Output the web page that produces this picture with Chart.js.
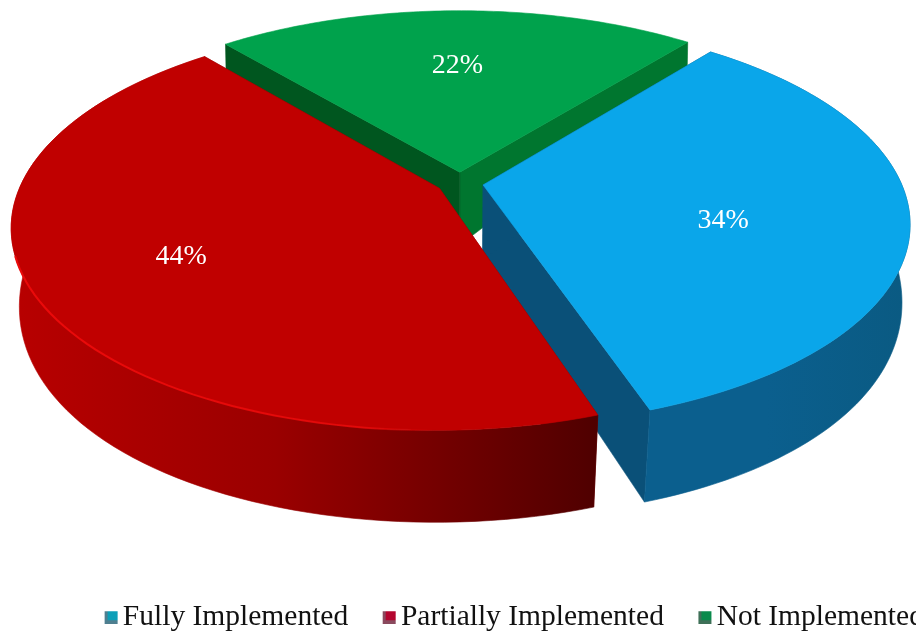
<!DOCTYPE html>
<html><head><meta charset="utf-8">
<script src="https://cdn.jsdelivr.net/npm/chart.js@4/dist/chart.umd.min.js"></script>
<style>html,body{margin:0;padding:0;background:#fff;overflow:hidden;width:916px;height:634px}
#w{position:relative;width:1030px;height:642px}</style></head>
<body><div id="w"><canvas id="c" width="1030" height="642"></canvas></div>
<script>
const categories = ["Fully Implemented", "Partially Implemented", "Not Implemented"];
const values = [34, 44, 22];
const topColors = ["#0AA6EA", "#C00000", "#00A24C"];
const legendFaces = ["#0C9FB8", "#B4062F", "#0A8A4C"];
const legendEdges = ["#4F7F90", "#8A4A5E", "#3F7058"];
const wallColors = [["#0B5F8E", "#0A5A82"], ["#B80000", "#4F0000"], ["#00742E", "#00742E"]];
const startFaceColors = ["#0A5078", "#7A0000", "#00561F"];
const endFaceColors = ["#0A5078", "#7A0000", "#00762F"];
const labelFractions = [0.58, 0.66, 0.62];
const labelAngleShift = [0.13, 0, 0];
const drawOrder = [2, 0, 1];

const view = {cx: 460, cy: 183, rx: 418, ry: 195, p: 0.185, d0: 75, d1: 37, d2: -20, explode: 0.056};

function project(u, v, bottom) {
  const s = 1 / (1 - view.p * v);
  let x = view.rx * u * s, y = view.ry * v * s;
  if (bottom) { x *= 1 - 0.015 * (1 + v); y += view.d0 + view.d1 * v + view.d2 * v * v; }
  return [view.cx + x, view.cy + y];
}
function sliceGeom(arc) {
  const a0 = arc.startAngle, a1 = arc.endAngle, mid = (a0 + a1) / 2;
  const off = view.explode;
  return {a0, a1, ox: Math.cos(mid) * off, oy: Math.sin(mid) * off, mid};
}
function rimPoint(g, a, bottom) { return project(g.ox + Math.cos(a), g.oy + Math.sin(a), bottom); }
function poly(ctx, pts, fill) {
  ctx.beginPath(); pts.forEach((p, i) => i ? ctx.lineTo(p[0], p[1]) : ctx.moveTo(p[0], p[1]));
  ctx.closePath(); ctx.fillStyle = fill; ctx.fill(); ctx.strokeStyle = fill; ctx.lineWidth = .6; ctx.stroke();
}
function arcPts(g, bottom, n = 90) {
  const out = [];
  for (let i = 0; i <= n; i++) out.push(rimPoint(g, g.a0 + (g.a1 - g.a0) * i / n, bottom));
  return out;
}
const pie3d = {
  id: 'pie3d',
  beforeDatasetDraw(chart) {
    const ctx = chart.ctx, arcs = chart.getDatasetMeta(0).data;
    ctx.save();
    drawOrder.forEach(i => {
      const g = sliceGeom(arcs[i]);
      const c0 = project(g.ox, g.oy, false), c1 = project(g.ox, g.oy, true);
      const s0 = rimPoint(g, g.a0, false), s1 = rimPoint(g, g.a0, true);
      const e0 = rimPoint(g, g.a1, false), e1 = rimPoint(g, g.a1, true);
      poly(ctx, [c0, e0, e1, c1], endFaceColors[i]);
      poly(ctx, [c0, s0, s1, c1], startFaceColors[i]);
      const top = arcPts(g, false), bot = arcPts(g, true);
      const xs = top.map(p => p[0]);
      const gr = ctx.createLinearGradient(Math.min(...xs), 0, Math.max(...xs), 0);
      gr.addColorStop(0, wallColors[i][0]); gr.addColorStop(.45, i === 1 ? "#9A0000" : wallColors[i][0]); gr.addColorStop(1, wallColors[i][1]);
      if (i !== 2) poly(ctx, top.concat(bot.slice().reverse()), gr);
      poly(ctx, [c0].concat(top), topColors[i]);
      if (i === 1) {
        const hl = ctx.createLinearGradient(Math.min(...xs), 0, Math.max(...xs), 0);
        hl.addColorStop(0, "rgba(235,10,10,1)"); hl.addColorStop(.6, "rgba(235,10,10,.8)"); hl.addColorStop(.72, "rgba(235,10,10,0)");
        const seam = top.filter(p => p[1] > 250);
        ctx.beginPath(); seam.forEach((p, k) => k ? ctx.lineTo(p[0], p[1]) : ctx.moveTo(p[0], p[1]));
        ctx.strokeStyle = hl; ctx.lineWidth = 2; ctx.stroke();
      }
    });
    ctx.restore();
    return false;
  },
  afterDatasetsDraw(chart) {
    const ctx = chart.ctx, arcs = chart.getDatasetMeta(0).data;
    const total = values.reduce((a, b) => a + b, 0);
    ctx.save();
    ctx.font = "28px 'Liberation Serif'"; ctx.fillStyle = "#fff"; ctx.textAlign = "center"; ctx.textBaseline = "middle";
    values.forEach((val, i) => {
      const g = sliceGeom(arcs[i]), f = labelFractions[i], a = g.mid + labelAngleShift[i];
      const p = project(g.ox + Math.cos(a) * f, g.oy + Math.sin(a) * f, false);
      ctx.fillText(Math.round(val / total * 100) + "%", p[0], p[1]);
    });
    ctx.restore();
  }
};
function legendMark(i) {
  const c = document.createElement('canvas'); c.width = 23; c.height = 14;
  const x = c.getContext('2d');
  x.fillStyle = legendEdges[i]; x.fillRect(9, 1, 13, 13);
  x.fillStyle = legendFaces[i]; x.fillRect(12, 1, 10, 9);
  return c;
}
const bg = {id: 'bg', beforeDraw(ch) { ch.ctx.save(); ch.ctx.fillStyle = "#fff"; ch.ctx.fillRect(0, 0, ch.width, ch.height); ch.ctx.restore(); }};
new Chart(document.getElementById('c'), {
  type: 'pie',
  data: {labels: categories, datasets: [{data: values, backgroundColor: topColors, borderWidth: 0}]},
  options: {
    responsive: false, animation: false, rotation: 39,
    layout: {padding: 0},
    plugins: {
      tooltip: {enabled: false},
      legend: {
        position: 'bottom',
        labels: {
          font: {family: "'Liberation Serif'", size: 29.5}, color: "#111",
          usePointStyle: true, boxWidth: 2, padding: 36,
          generateLabels(chart) {
            const items = Chart.overrides.doughnut.plugins.legend.labels.generateLabels(chart);
            items.forEach((it, i) => { it.pointStyle = legendMark(i); });
            return items;
          }
        }
      }
    }
  },
  plugins: [bg, pie3d]
});
</script></body></html>
